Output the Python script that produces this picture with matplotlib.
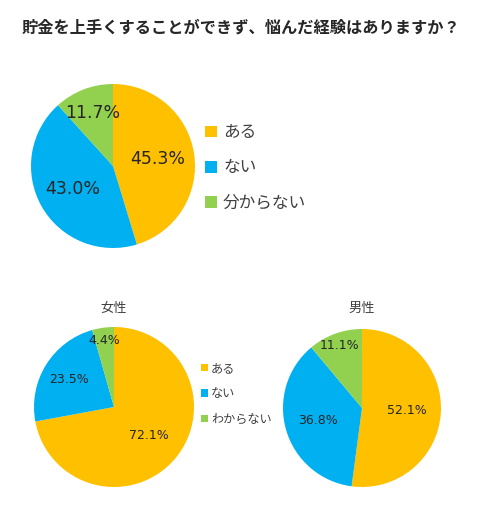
import matplotlib
matplotlib.use("Agg")
import matplotlib.pyplot as plt
import numpy as np

plt.rcParams['font.family'] = ['Noto Sans CJK JP', 'DejaVu Sans']

title = '貯金を上手くすることができず、悩んだ経験はありますか？'

# overall
all_labels = ['ある', 'ない', '分からない']
all_values = [45.3, 43.0, 11.7]

# by gender
sub_labels = ['ある', 'ない', 'わからない']
female_values = [72.1, 23.5, 4.4]
male_values = [52.1, 36.8, 11.1]

colors = ['#FFC000', '#00B0F0', '#92D050']

# how far out each percentage sits (fraction of radius), like Excel's best fit
all_label_r = [0.55, 0.57, 0.69]
female_label_r = [0.56, 0.66, 0.84]
male_label_r = [0.57, 0.58, 0.84]

W, H = 480, 530
fig = plt.figure(figsize=(W / 100, H / 100), dpi=100)
fig.patch.set_facecolor('white')


def pie_axes(cx, cy, r):
    # cx, cy, r in pixels, y measured from top
    return fig.add_axes([(cx - r) / W, (H - cy - r) / H, 2 * r / W, 2 * r / H])


def draw_pie(ax, values, fs, label_r):
    wedges, _ = ax.pie(values, colors=colors, startangle=90, counterclock=False)
    for w, v, lr in zip(wedges, values, label_r):
        mid = np.deg2rad((w.theta1 + w.theta2) / 2)
        ax.text(lr * np.cos(mid), lr * np.sin(mid), f'{v:.1f}%',
                ha='center', va='center', fontsize=fs, color='#262626',
                family='DejaVu Sans')
    ax.set_xlim(-1, 1)
    ax.set_ylim(-1, 1)
    ax.set_aspect('equal')
    ax.axis('off')
    return wedges


fig.text(241 / W, 1 - 28 / H, title, ha='center', va='center',
         fontsize=11.7, fontweight='bold', color='#262626')

# top pie
ax0 = pie_axes(113, 166, 82)
w0 = draw_pie(ax0, all_values, 12.5, all_label_r)
fig.legend(w0, all_labels, loc='center left',
           bbox_to_anchor=(205 / W, 1 - 168 / H), frameon=False,
           fontsize=12, labelcolor='#404040', handlelength=0.72,
           handleheight=0.72, handletextpad=0.36, labelspacing=1.09,
           borderpad=0, borderaxespad=0)

# female
ax1 = pie_axes(114, 407, 80)
w1 = draw_pie(ax1, female_values, 9, female_label_r)
fig.text(114 / W, 1 - 308 / H, '女性', ha='center', va='center',
         fontsize=9.5, color='#404040')

# male
ax2 = pie_axes(362, 408, 79)
draw_pie(ax2, male_values, 9, male_label_r)
fig.text(362 / W, 1 - 308 / H, '男性', ha='center', va='center',
         fontsize=9.5, color='#404040')

fig.legend(w1, sub_labels, loc='center left',
           bbox_to_anchor=(201 / W, 1 - 394 / H), frameon=False,
           fontsize=8.75, labelcolor='#404040', handlelength=0.57,
           handleheight=0.57, handletextpad=0.25, labelspacing=1.03,
           borderpad=0, borderaxespad=0)

fig.savefig('out.png', dpi=100, facecolor='white')
